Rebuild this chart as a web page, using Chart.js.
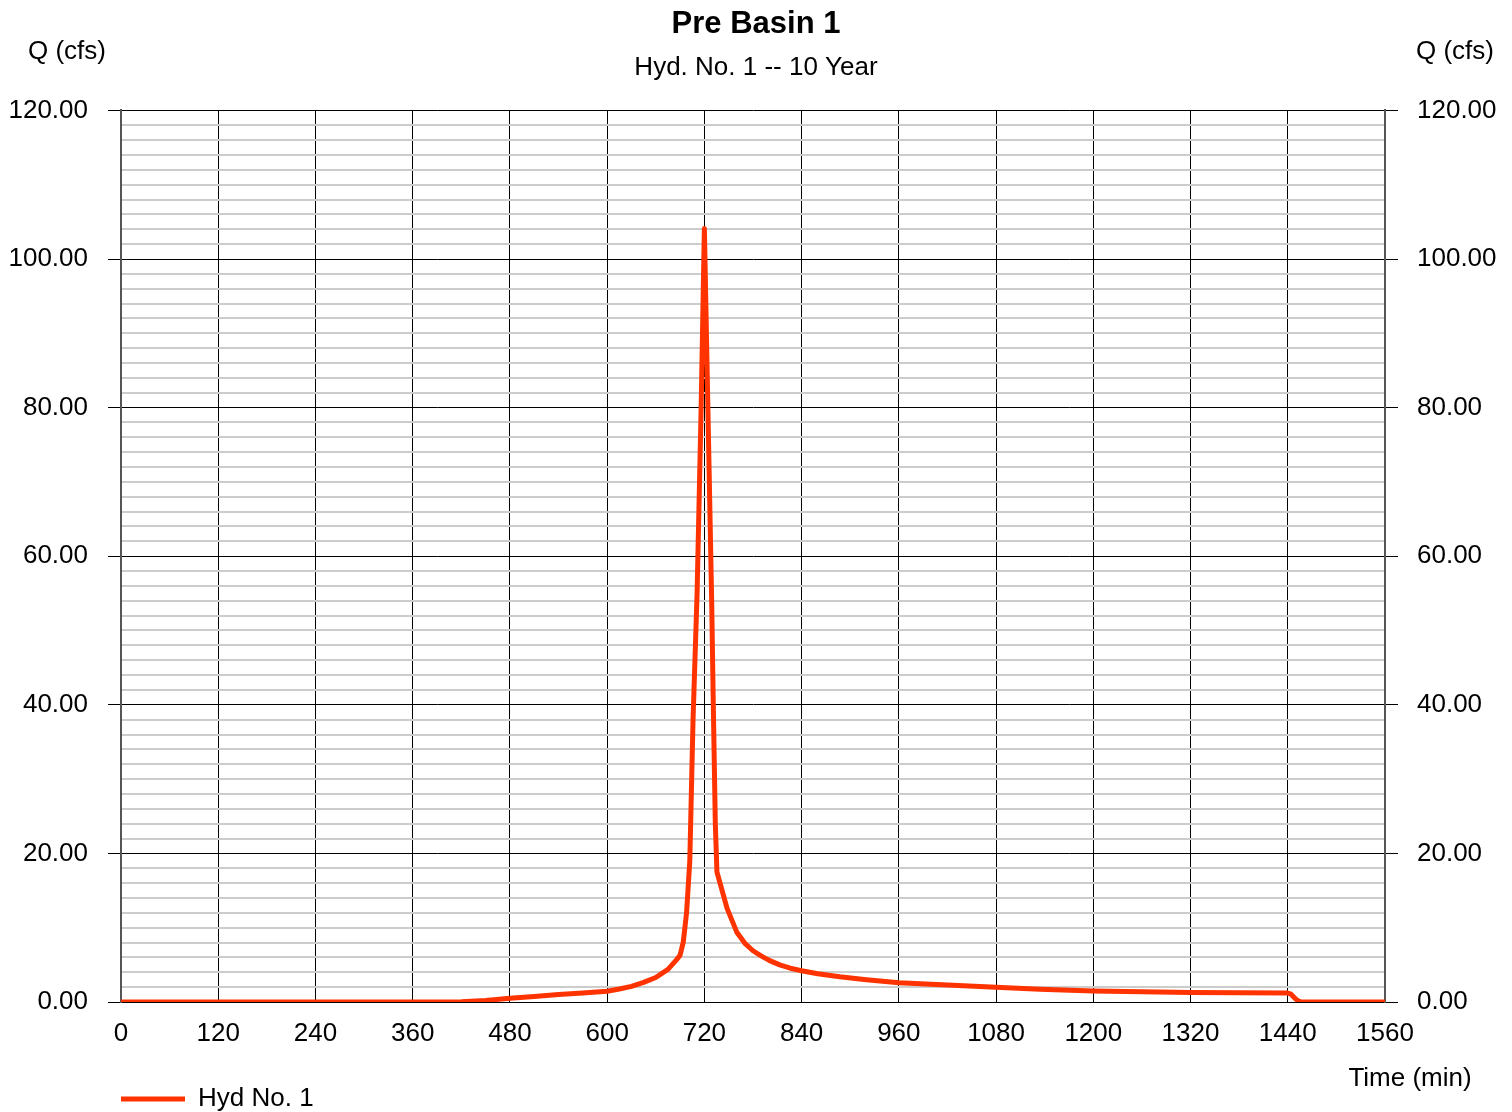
<!DOCTYPE html>
<html lang="en">
<head>
  <meta charset="UTF-8" />
  <title>Pre Basin 1</title>
  <script src="https://cdn.jsdelivr.net/npm/chart.js"></script>
  <style>
    body {
      margin: 0;
      background: #fff;
    }
    .wrap {
      width: 1512px;
      height: 1112px;
      position: relative;
    }
  </style>
</head>
<body>
  <div class="wrap">
    <canvas id="hydChart" role="img" aria-label="Pre Basin 1 hydrograph"></canvas>
  </div>

  <script>
    // Hydrograph: time (min) and flow Q (cfs)
    const timeMin = [0, 360, 420, 450, 480, 510, 540, 570, 600, 615, 630, 645, 660, 675, 685, 690, 694, 698,
                     702, 706, 711, 716, 720, 724.5, 729, 731, 733.5, 735.5, 748, 760, 770, 780, 790, 800,
                     813, 826, 840, 860, 887, 920, 960, 1020, 1080, 1134, 1200, 1320, 1440, 1444, 1448,
                     1452, 1456, 1460, 1560];
    const flowCfs = [0, 0, 0.02, 0.2, 0.5, 0.75, 1.0, 1.2, 1.45, 1.75, 2.1, 2.65, 3.3, 4.4, 5.6, 6.3, 8.1, 12,
                     19, 38, 55, 80, 104.1, 79, 54, 40, 24, 17.5, 12.6, 9.4, 7.9, 6.9, 6.2, 5.6,
                     5.0, 4.55, 4.2, 3.8, 3.4, 3.0, 2.6, 2.3, 2.0, 1.7, 1.48, 1.28, 1.2, 1.05, 0.6,
                     0.2, 0.03, 0, 0];
    const seriesName = 'Hyd No. 1';
    const xTicks = { min: 0, max: 1560, step: 120 };
    const yTicks = { min: 0, max: 120, step: 20, minorStep: 2 };

    Chart.defaults.font.family = "'Liberation Sans', Arial, sans-serif";
    Chart.defaults.font.size = 26;
    Chart.defaults.color = '#000';

    const points = timeMin.map((t, i) => ({ x: t, y: flowCfs[i] }));
    const lineRed = '#ff3300';

    // axis captions that sit outside the plot
    const captions = {
      id: 'captions',
      afterDraw(chart) {
        const { ctx, chartArea } = chart;
        ctx.save();
        ctx.font = "26px 'Liberation Sans', Arial, sans-serif";
        ctx.fillStyle = '#000';
        ctx.textAlign = 'center';
        ctx.textBaseline = 'middle';
        ctx.fillText('Q (cfs)', chartArea.left - 54, 52);
        ctx.fillText('Q (cfs)', chartArea.right + 70, 52);
        ctx.fillText('Time (min)', chartArea.right + 25, chartArea.bottom + 77);
        ctx.restore();
      }
    };

    const isMajor = v => Math.abs(v % yTicks.step) < 1e-6;

    // minor gridlines every 2 cfs, labels only every 20
    const minorTicks = scale => {
      const t = [];
      for (let v = yTicks.min; v <= yTicks.max; v += yTicks.minorStep) t.push({ value: v });
      scale.ticks = t;
    };

    new Chart(document.getElementById('hydChart'), {
      type: 'line',
      data: {
        datasets: [{
          label: seriesName,
          data: points,
          borderColor: lineRed,
          backgroundColor: lineRed,
          borderWidth: 5,
          pointRadius: 0,
          pointStyle: 'line',
          tension: 0,
          borderCapStyle: 'round',
          borderJoinStyle: 'round',
          yAxisID: 'y'
        }]
      },
      options: {
        responsive: true,
        maintainAspectRatio: false,
        animation: false,
        layout: { padding: { top: 0, right: 0, bottom: -10, left: 0 } },
        plugins: {
          title: {
            display: true,
            text: 'Pre Basin 1',
            font: { size: 31, weight: 'bold' },
            padding: { top: 6, bottom: 9 }
          },
          subtitle: {
            display: true,
            text: 'Hyd. No. 1 -- 10 Year',
            font: { size: 26 },
            padding: { top: 0, bottom: 27 }
          },
          legend: {
            position: 'bottom',
            align: 'start',
            fullSize: false,
            labels: {
              usePointStyle: true,
              pointStyle: 'line',
              pointStyleWidth: 64,
              padding: 0,
              font: { size: 26 }
            }
          },
          tooltip: { enabled: false }
        },
        scales: {
          x: {
            type: 'linear',
            min: xTicks.min,
            max: xTicks.max,
            afterFit: s => { s.height = 84; },
            ticks: {
              stepSize: xTicks.step,
              padding: 16,
              callback: v => String(v)
            },
            grid: { color: '#000', lineWidth: 1, drawTicks: false },
            border: { color: '#000', width: 1 }
          },
          y: {
            position: 'left',
            min: yTicks.min,
            max: yTicks.max,
            afterFit: s => { s.width = 121; },
            afterBuildTicks: minorTicks,
            ticks: {
              autoSkip: false,
              padding: 20,
              callback: v => isMajor(v) ? v.toFixed(2) : ''
            },
            grid: {
              color: c => isMajor(c.tick.value) ? '#000' : '#cccccc',
              lineWidth: c => isMajor(c.tick.value) ? 1 : 2,
              tickColor: c => isMajor(c.tick.value) ? '#000' : 'rgba(0,0,0,0)',
              tickLength: 13
            },
            border: { color: '#555', width: 2 }
          },
          y2: {
            position: 'right',
            min: yTicks.min,
            max: yTicks.max,
            afterFit: s => { s.width = 127; },
            ticks: {
              stepSize: yTicks.step,
              padding: 19,
              callback: v => v.toFixed(2)
            },
            grid: { drawOnChartArea: false, color: '#000', tickLength: 13 },
            border: { color: '#555', width: 2 }
          }
        }
      },
      plugins: [captions]
    });
  </script>
</body>
</html>
